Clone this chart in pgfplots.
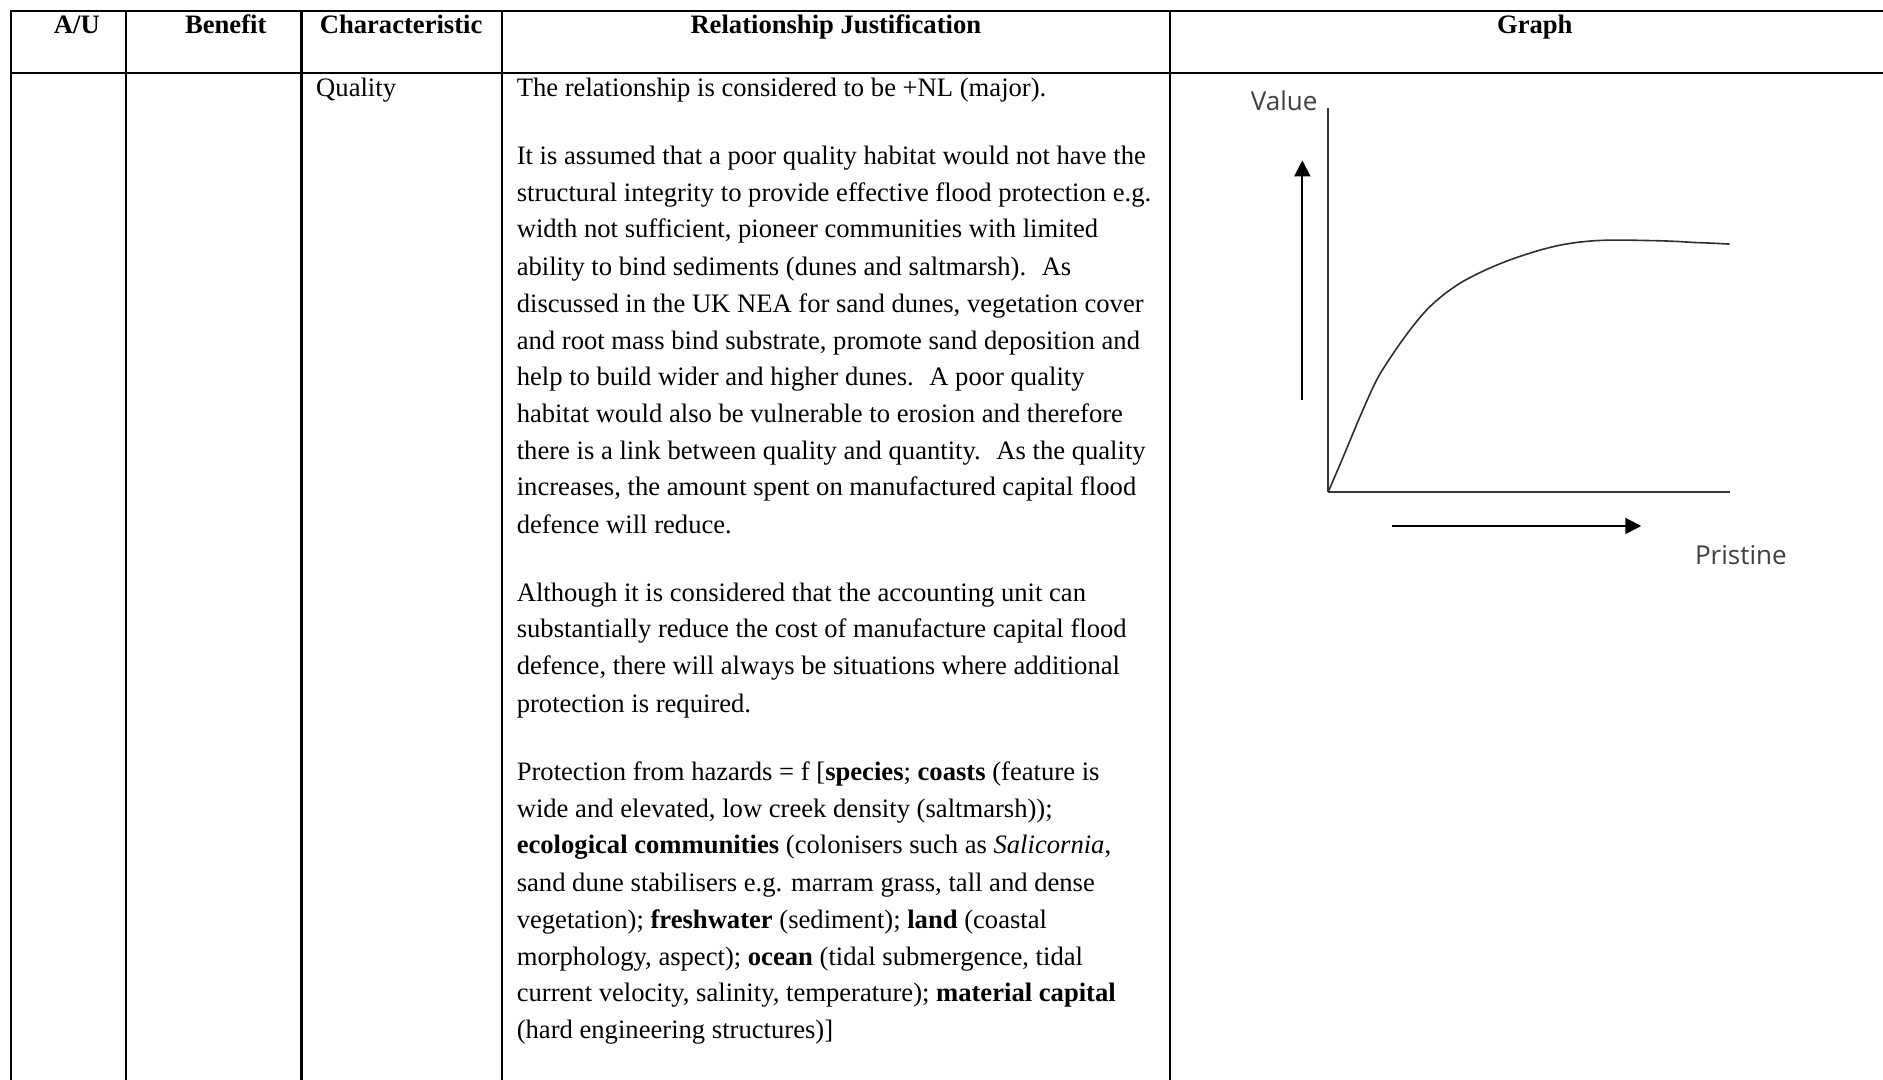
\documentclass[border=0pt]{standalone}
\usepackage{fontspec}
\setmainfont{Liberation Serif}
\newfontfamily\graphfont{Open Sans}
\usepackage{pgfplots}
\pgfplotsset{compat=1.18}
\usetikzlibrary{arrows.meta}
\newcommand\body{\fontsize{13.3}{16}\selectfont}
\newcommand\tl[2]{\node[anchor=base west,inner sep=0pt,font=\body] at (430,#1) {#2};}
\newcommand\hd[2]{\node[anchor=base,inner sep=0pt,font=\body\bfseries] at (#1,28) {#2};}
\begin{document}
\begin{tikzpicture}[x=0.6pt,y=-0.6pt]
\useasboundingbox (0,0) rectangle (1568,899.3);
\begin{scope}[line width=1.1pt]
\draw (8.5,9) -- (1568,9);
\draw (8.5,61) -- (1568,61);
\foreach \x in {9,105,251,418,974} \draw (\x,8.5) -- (\x,899.3);
\end{scope}
% header
\hd{64}{A/U}
\hd{188}{Benefit}
\hd{334}{Characteristic}
\hd{696}{Relationship Justification}
\hd{1278}{Graph}
\node[anchor=base west,inner sep=0pt,font=\body] at (263,80) {Quality};
\tl{80}{The relationship is considered to be +NL (major).}
\tl{137}{It is assumed that a poor quality habitat would not have the}
\tl{168}{structural integrity to provide effective flood protection e.g.}
\tl{198}{width not sufficient, pioneer communities with limited}
\tl{229}{ability to bind sediments (dunes and saltmarsh).~ As}
\tl{260}{discussed in the UK NEA for sand dunes, vegetation cover}
\tl{291}{and root mass bind substrate, promote sand deposition and}
\tl{321}{help to build wider and higher dunes.~ A poor quality}
\tl{352}{habitat would also be vulnerable to erosion and therefore}
\tl{383}{there is a link between quality and quantity.~ As the quality}
\tl{413}{increases, the amount spent on manufactured capital flood}
\tl{444}{defence will reduce.}
\tl{501}{Although it is considered that the accounting unit can}
\tl{531}{substantially reduce the cost of manufacture capital flood}
\tl{562}{defence, there will always be situations where additional}
\tl{593}{protection is required.}
\tl{650}{Protection from hazards = f [\textbf{species}; \textbf{coasts} (feature is}
\tl{681}{wide and elevated, low creek density (saltmarsh));}
\tl{711}{\textbf{ecological communities} (colonisers such as \textit{Salicornia},}
\tl{742}{sand dune stabilisers e.g. marram grass, tall and dense}
\tl{773}{vegetation); \textbf{freshwater} (sediment); \textbf{land} (coastal}
\tl{804}{morphology, aspect); \textbf{ocean} (tidal submergence, tidal}
\tl{834}{current velocity, salinity, temperature); \textbf{material capital}}
\tl{865}{(hard engineering structures)]}
\coordinate (O) at (1106.1,409.4);
\begin{axis}[at={(O)}, anchor=south west, scale only axis,
  width=200.5pt, height=191.85pt,
  xmin=0, xmax=1, ymin=0, ymax=1,
  axis lines=left, axis line style={-, line width=1pt, color=black!78},
  ticks=none, clip=false]
\addplot[smooth, line width=0.8pt, color=black!82] coordinates {
(0,0) (0.0374,0.0912) (0.079,0.1955) (0.1205,0.291) (0.162,0.3606)
(0.2037,0.4214) (0.2452,0.4735) (0.2868,0.5126) (0.3283,0.543)
(0.3699,0.5665) (0.4115,0.5864) (0.453,0.6038) (0.4946,0.6186)
(0.5362,0.6316) (0.5777,0.642) (0.6193,0.649) (0.6608,0.6533)
(0.7024,0.6551) (0.744,0.6551) (0.7855,0.6542) (0.8271,0.6533)
(0.8687,0.6516) (0.9102,0.649) (0.9518,0.6473) (1,0.6447)};
\draw[-{Triangle[length=8pt,width=8pt]}, line width=1pt] (axis cs:-0.0648,0.239) -- (axis cs:-0.0648,0.8627);
\draw[-{Triangle[length=8pt,width=8pt]}, line width=1pt] (axis cs:0.159,-0.0894) -- (axis cs:0.7798,-0.0894);
\node[font=\graphfont\fontsize{13}{15}\selectfont, text=black!75] at (axis cs:-0.11,1.018) {Value};
\node[font=\graphfont\fontsize{13}{15}\selectfont, text=black!75] at (axis cs:1.028,-0.164) {Pristine};
\end{axis}
\end{tikzpicture}
\end{document}
